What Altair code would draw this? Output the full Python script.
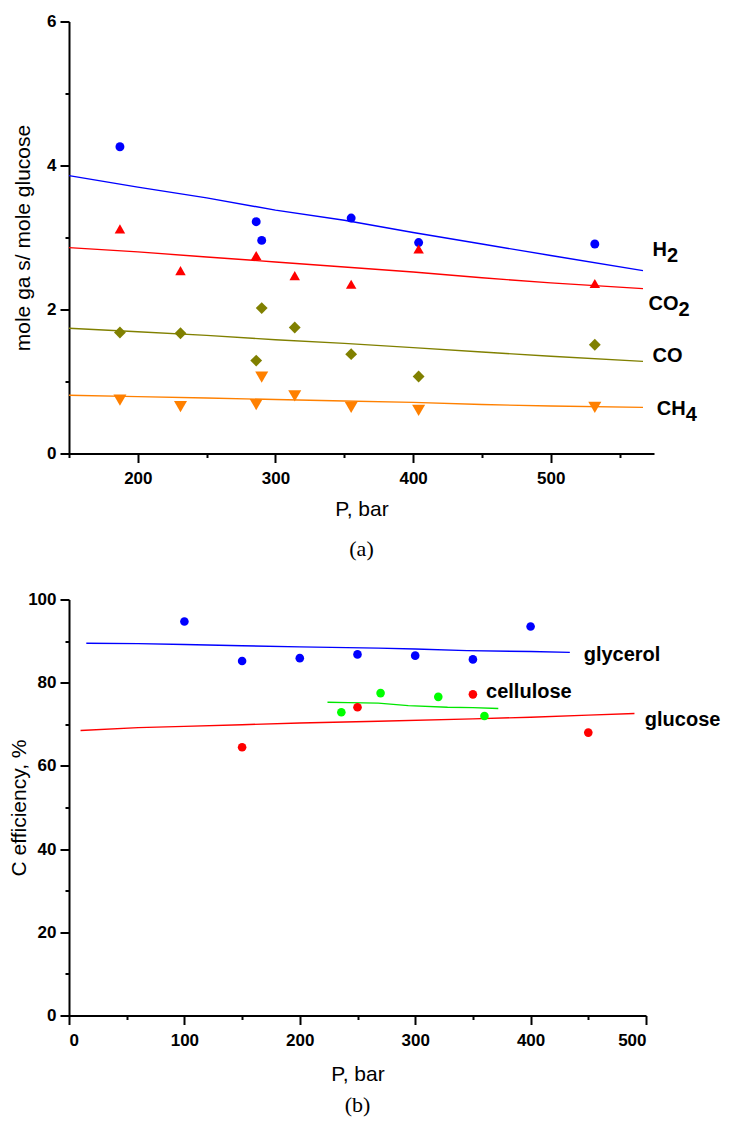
import altair as alt
import pandas as pd

# ---------------- panel (a): gas yields vs pressure ----------------
H2_P = [187, 286, 290, 355, 404, 532]
H2_V = [4.26, 3.22, 2.96, 3.27, 2.93, 2.91]
CO2_P = [187, 231, 286, 314, 355, 404, 532]
CO2_V = [3.12, 2.54, 2.75, 2.47, 2.35, 2.84, 2.36]
CO_P = [187, 231, 286, 290, 314, 355, 404, 532]
CO_V = [1.68, 1.67, 1.29, 2.02, 1.75, 1.38, 1.07, 1.51]
CH4_P = [187, 231, 286, 290, 314, 355, 404, 532]
CH4_V = [0.74, 0.65, 0.68, 1.06, 0.80, 0.64, 0.60, 0.64]

FIT_P = [150, 200, 250, 300, 350, 400, 450, 500, 567]
H2_FIT = [3.86, 3.70, 3.55, 3.38, 3.24, 3.07, 2.91, 2.75, 2.54]
CO2_FIT = [2.86, 2.80, 2.73, 2.66, 2.59, 2.52, 2.44, 2.37, 2.29]
CO_FIT = [1.74, 1.69, 1.64, 1.58, 1.53, 1.47, 1.41, 1.35, 1.28]
CH4_FIT = [0.81, 0.79, 0.77, 0.75, 0.73, 0.71, 0.68, 0.66, 0.64]

GASES = ["H2", "CO2", "CO", "CH4"]
GAS_MAIN = ["H", "CO", "CO", "CH"]
GAS_SUB = ["2", "2", "", "4"]
GAS_LABEL_P = [574, 571, 574, 577]
GAS_LABEL_V = [2.75, 2.0, 1.27, 0.53]

# ---------------- panel (b): carbon efficiency ----------------
GLY_P = [100, 150, 200, 250, 300, 350, 400]
GLY_V = [94.7, 85.2, 85.9, 86.8, 86.5, 85.6, 93.5]
GLU_P = [150, 250, 350, 450]
GLU_V = [64.5, 74.1, 77.2, 68.0]
CEL_P = [236, 270, 320, 360]
CEL_V = [72.9, 77.5, 76.6, 72.0]

GLY_FIT_P = [15, 60, 100, 150, 200, 268, 300, 345, 400, 434]
GLY_FIT = [89.5, 89.4, 89.2, 88.9, 88.6, 88.3, 88.1, 87.7, 87.5, 87.3]
GLU_FIT_P = [10, 60, 100, 150, 200, 268, 350, 400, 450, 490]
GLU_FIT = [68.5, 69.2, 69.5, 69.9, 70.3, 70.75, 71.3, 71.7, 72.2, 72.6]
CEL_FIT_P = [224, 242, 268, 294, 328, 350, 372]
CEL_FIT = [75.3, 75.2, 75.1, 74.5, 74.1, 74.0, 73.8]

FEEDS = ["glycerol", "cellulose", "glucose"]
FEED_LABEL_P = [446, 361.4, 499]
FEED_LABEL_V = [85.2, 76.4, 69.7]

# ---------------- styles ----------------
GAS_COLORS = ["#0000FF", "#FF0000", "#808000", "#FF8000"]
GAS_SHAPES = ["circle", "triangle-up", "diamond", "triangle-down"]
GAS_SIZES = [80, 170, 175, 170]
FEED_COLORS = ["#0000FF", "#00E600", "#FF0000"]
FEED_POINT_COLORS = ["#0000FF", "#00FF00", "#FF0000"]
FONT = "Liberation Sans"
LABEL_SIZE = 20
BOLD_W = {"H": 0.722, "C": 0.722, "O": 0.778}

# ---------------- tables ----------------
def long(pairs, names):
    rows = []
    for name, (xs, ys) in zip(names, pairs):
        for x, y in zip(xs, ys):
            rows.append({"series": name, "P": x, "v": y})
    return pd.DataFrame(rows)

gas_pts = long([(H2_P, H2_V), (CO2_P, CO2_V), (CO_P, CO_V), (CH4_P, CH4_V)], GASES)
gas_fit = long([(FIT_P, H2_FIT), (FIT_P, CO2_FIT), (FIT_P, CO_FIT), (FIT_P, CH4_FIT)], GASES)
gas_lab = pd.DataFrame({"series": GASES, "main": GAS_MAIN, "sub": GAS_SUB,
                        "P": GAS_LABEL_P, "v": GAS_LABEL_V})

feed_pts = long([(GLY_P, GLY_V), (CEL_P, CEL_V), (GLU_P, GLU_V)], FEEDS)
feed_fit = long([(GLY_FIT_P, GLY_FIT), (CEL_FIT_P, CEL_FIT), (GLU_FIT_P, GLU_FIT)], FEEDS)
feed_lab = pd.DataFrame({"series": FEEDS, "P": FEED_LABEL_P, "v": FEED_LABEL_V})


def axis(values, major, title, title_pad, label_pad, orient):
    return alt.Axis(
        values=values, title=title, titlePadding=title_pad, labelPadding=label_pad,
        format="d",
        labelExpr=f"datum.value % {major} === 0 ? datum.label : ''",
        tickSize={"condition": {"test": f"datum.value % {major} !== 0", "value": 4}, "value": 9},
        orient=orient,
    )


# ---------------- panel (a) ----------------
xa = alt.X("P:Q", scale=alt.Scale(domain=[150, 575], nice=False, zero=False),
           axis=axis([150, 200, 250, 300, 350, 400, 450, 500, 550], 100, "P, bar", 12, 7.5, "bottom"))
ya = alt.Y("v:Q", scale=alt.Scale(domain=[0, 6], nice=False),
           axis=axis([0, 1, 2, 3, 4, 5, 6], 2, "mole ga s/ mole glucose", 13, 4, "left"))
gas_color = alt.Color("series:N", scale=alt.Scale(domain=GASES, range=GAS_COLORS), legend=None)

a_lines = alt.Chart(gas_fit).mark_line(strokeWidth=1.4).encode(x=xa, y=ya, color=gas_color, detail="series:N")
a_pts = alt.Chart(gas_pts).mark_point(filled=True, opacity=1).encode(
    x="P:Q", y="v:Q", color=gas_color,
    shape=alt.Shape("series:N", scale=alt.Scale(domain=GASES, range=GAS_SHAPES), legend=None),
    size=alt.Size("series:N", scale=alt.Scale(domain=GASES, range=GAS_SIZES), legend=None),
)
a_text = alt.Chart(gas_lab).mark_text(align="left", baseline="alphabetic", font=FONT,
                                      fontSize=LABEL_SIZE, fontWeight="bold", color="black").encode(
    x="P:Q", y="v:Q", text="main:N")
a_layers = [a_lines, a_pts, a_text]
for name, main, sub in zip(GASES, GAS_MAIN, GAS_SUB):
    if not sub:
        continue
    dx = LABEL_SIZE * sum(BOLD_W[c] for c in main)
    a_layers.append(
        alt.Chart(gas_lab).transform_filter(alt.datum.series == name).mark_text(
            align="left", baseline="alphabetic", font=FONT, fontSize=LABEL_SIZE,
            fontWeight="bold", color="black", dx=dx, dy=6).encode(x="P:Q", y="v:Q", text="sub:N"))

panel_a = alt.layer(*a_layers).properties(
    width=585, height=432,
    title=alt.TitleParams("(a)", orient="bottom", anchor="middle", font="Liberation Serif",
                          fontSize=22, fontWeight="normal", color="black", offset=20),
)

# ---------------- panel (b) ----------------
xb = alt.X("P:Q", scale=alt.Scale(domain=[0, 500], nice=False),
           axis=axis(list(range(0, 501, 50)), 100, "P, bar", 15, 7.5, "bottom"))
yb = alt.Y("v:Q", scale=alt.Scale(domain=[0, 100], nice=False),
           axis=axis(list(range(0, 101, 10)), 20, "C efficiency, %", -1.5, 4, "left"))

b_lines = alt.Chart(feed_fit).mark_line(strokeWidth=1.4).encode(
    x=xb, y=yb, detail="series:N",
    color=alt.Color("series:N", scale=alt.Scale(domain=FEEDS, range=FEED_COLORS), legend=None))
b_pts = alt.Chart(feed_pts).mark_circle(size=74, opacity=1).encode(
    x="P:Q", y="v:Q",
    fill=alt.Fill("series:N", scale=alt.Scale(domain=FEEDS, range=FEED_POINT_COLORS), legend=None))
b_text = alt.Chart(feed_lab).mark_text(align="left", baseline="alphabetic", font=FONT,
                                       fontSize=LABEL_SIZE, fontWeight="bold", color="black").encode(
    x="P:Q", y="v:Q", text="series:N")

panel_b = alt.layer(b_lines, b_pts, b_text).properties(
    width=577, height=416,
    title=alt.TitleParams("(b)", orient="bottom", anchor="middle", font="Liberation Serif",
                          fontSize=22, fontWeight="normal", color="black", offset=11),
)

chart = alt.vconcat(panel_a, panel_b, spacing=146, bounds="flush").resolve_scale(
    color="independent", fill="independent", shape="independent", size="independent"
).properties(
    padding={"left": 0, "top": 4.5, "right": 0, "bottom": 0}
).configure_axis(
    domainColor="black", domainWidth=2, tickColor="black", tickWidth=2,
    labelFont=FONT, labelFontSize=17, labelFontWeight="bold", labelColor="black",
    titleFont=FONT, titleFontSize=21, titleFontWeight="normal", titleColor="black", grid=False,
).configure_view(stroke=None)

chart.save("out.html", embed_options={"renderer": "svg", "actions": False})
